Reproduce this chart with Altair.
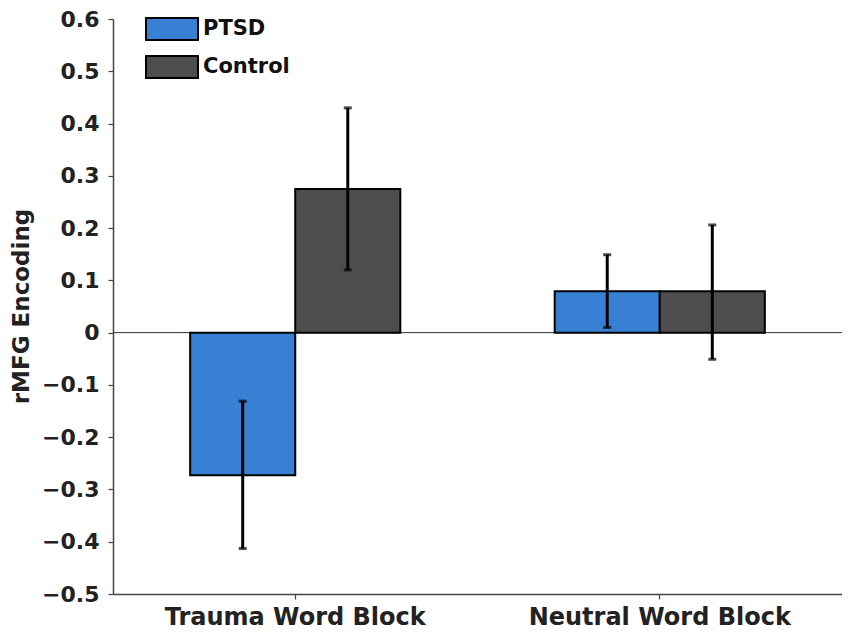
import altair as alt
import pandas as pd

blocks = ["Trauma Word Block", "Neutral Word Block"]
groups = ["PTSD", "Control"]
ptsd_mean = [-0.273, 0.079]
ptsd_lo = [-0.413, 0.010]
ptsd_hi = [-0.131, 0.149]
control_mean = [0.275, 0.079]
control_lo = [0.120, -0.051]
control_hi = [0.430, 0.206]
colors = ["#3780D3", "#4D4D4D"]

rows = []
for i, b in enumerate(blocks):
    rows.append({"block": b, "group": "PTSD", "mean": ptsd_mean[i], "lo": ptsd_lo[i], "hi": ptsd_hi[i]})
    rows.append({"block": b, "group": "Control", "mean": control_mean[i], "lo": control_lo[i], "hi": control_hi[i]})
df = pd.DataFrame(rows)

FONT = "DejaVu Sans"

x = alt.X("block:N", sort=blocks, title=None,
          scale=alt.Scale(paddingInner=0.4235, paddingOuter=0.2117),
          axis=alt.Axis(labelAngle=0, labelFont=FONT, labelFontSize=24, labelFontWeight="bold",
                        labelColor="#222", labelPadding=6, labelLimit=0, tickSize=5, tickColor="#444",
                        domainColor="#444", domainWidth=1.5, tickWidth=1.2))
xo = alt.XOffset("group:N", sort=groups, scale=alt.Scale(paddingInner=0, paddingOuter=0))

base = alt.Chart(df)

bars = base.mark_bar(stroke="black", strokeWidth=2, opacity=1).encode(
    x=x,
    xOffset=xo,
    y=alt.Y("mean:Q", title="rMFG Encoding",
            scale=alt.Scale(domain=[-0.5, 0.6], nice=False, zero=False),
            axis=alt.Axis(values=[-0.5, -0.4, -0.3, -0.2, -0.1, 0, 0.1, 0.2, 0.3, 0.4, 0.5, 0.6],
                          format="~g", grid=False, labelFont=FONT, labelFontSize=22,
                          labelFontWeight="bold", labelColor="#222", labelPadding=9,
                          tickSize=5, tickColor="#444", tickWidth=1.2, domainColor="#444",
                          domainWidth=1.5, titleFont=FONT, titleFontSize=23,
                          titleFontWeight="bold", titleColor="#222",
                          titleX=-92, titleY=287, titleBaseline="middle", titleAngle=-90)),
    color=alt.Color("group:N", scale=alt.Scale(domain=groups, range=colors),
                    legend=alt.Legend(title=None, orient="none", legendX=47, legendY=-2,
                                      symbolType="M-2.364,-1H2.364V1H-2.364Z", symbolSize=484,
                                      symbolStrokeColor="black", symbolStrokeWidth=2,
                                      symbolOpacity=1, labelFont=FONT, labelFontSize=21,
                                      labelFontWeight="bold", labelColor="#111",
                                      labelOffset=19, rowPadding=8, padding=0)),
)

zero = alt.Chart(pd.DataFrame({"z": [0]})).mark_rule(color="#333", strokeWidth=1).encode(y="z:Q")

err = base.mark_rule(color="black", strokeWidth=3).encode(
    x=x, xOffset=xo, y="lo:Q", y2="hi:Q")

cap_lo = base.mark_tick(color="black", thickness=3, size=8).encode(x=x, xOffset=xo, y="lo:Q")
cap_hi = base.mark_tick(color="black", thickness=3, size=8).encode(x=x, xOffset=xo, y="hi:Q")

chart = alt.layer(zero, bars, err, cap_lo, cap_hi).properties(
    width=729, height=575,
    autosize=alt.AutoSizeParams(type="none"),
    padding={"left": 105, "top": 11, "right": 0, "bottom": 36},
).configure(background="white").configure_view(stroke=None, strokeWidth=0)

chart.save("out.html", embed_options={"renderer": "svg", "actions": False})
